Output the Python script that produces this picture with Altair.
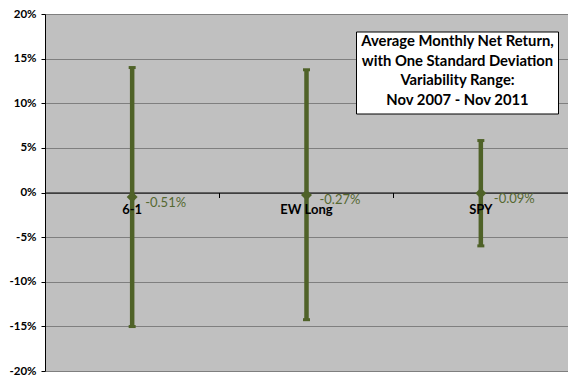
import altair as alt
import pandas as pd

categories = ["6-1", "EW Long", "SPY"]
means = [-0.51, -0.27, -0.09]
uppers = [14.0, 13.75, 5.82]
lowers = [-15.02, -14.25, -5.98]
mean_labels = ["-0.51%", "-0.27%", "-0.09%"]
y_ticks = [-20, -15, -10, -5, 0, 5, 10, 15, 20]
title_lines = ["Average Monthly Net Return,", "with One Standard Deviation",
               "Variability Range:", "Nov 2007 - Nov 2011"]

df = pd.DataFrame({"cat": categories, "mean": means, "upper": uppers,
                   "lower": lowers, "label": mean_labels})

GREEN = "#4F6228"
FONT = "Lato"
PLOT_W = 523
PLOT_H = 357

x_enc = alt.X("cat:N", sort=categories,
              scale=alt.Scale(paddingInner=0, paddingOuter=0),
              axis=alt.Axis(title=None, labels=False, domainColor="black",
                            tickColor="black", bandPosition=0,
                            offset=-PLOT_H / 2,
                            tickSize=5, grid=False, domainWidth=1))
y_scale = alt.Scale(domain=[-20, 20], nice=False, zero=False)
y_axis = alt.Axis(title=None, values=y_ticks, labelExpr="datum.value + '%'",
                  grid=True, gridColor="#7F7F7F", gridWidth=1,
                  domainColor="black", tickColor="black", tickSize=4,
                  labelFont=FONT, labelFontSize=11.5, labelFontWeight="bold",
                  labelColor="black", labelPadding=5)

base = alt.Chart(df)

rule = base.mark_rule(color=GREEN, strokeWidth=4.5).encode(
    x=x_enc, y=alt.Y("lower:Q", scale=y_scale, axis=y_axis), y2="upper:Q")
cap_top = base.mark_tick(color=GREEN, thickness=3, size=7, opacity=1).encode(
    x=x_enc, y=alt.Y("upper:Q", scale=y_scale))
cap_bot = base.mark_tick(color=GREEN, thickness=3, size=7, opacity=1).encode(
    x=x_enc, y=alt.Y("lower:Q", scale=y_scale))
pts = base.mark_point(shape="diamond", filled=True, size=120, color=GREEN,
                      opacity=1).encode(
    x=x_enc, y=alt.Y("mean:Q", scale=y_scale))
cat_text = base.mark_text(font=FONT, fontSize=13, fontWeight="bold",
                          color="black", baseline="middle", dy=17.5).encode(
    x=x_enc, y=alt.datum(0), text="cat:N")
val_text = base.mark_text(font=FONT, fontSize=13, color="#556830", align="left",
                          baseline="middle", dx=13, dy=5.5).encode(
    x=x_enc, y=alt.Y("mean:Q", scale=y_scale), text="label:N")

box_df = pd.DataFrame({"t": [0]})
box = alt.Chart(box_df).mark_rect(fill="white", stroke="black",
                                  strokeWidth=1).encode(
    x=alt.value(311.5), x2=alt.value(513.5), y=alt.value(18), y2=alt.value(100))
box_text = alt.Chart(box_df).mark_text(font=FONT, fontSize=14.8, fontWeight="bold",
                                       color="black", align="center",
                                       baseline="top", lineHeight=19.5).encode(
    x=alt.value(412.5), y=alt.value(20), text=alt.value(title_lines))

chart = alt.layer(rule, cap_top, cap_bot, pts, cat_text, val_text, box,
                  box_text).properties(
    width=PLOT_W, height=PLOT_H, autosize="none",
    padding={"left": 37, "top": 6, "right": 0, "bottom": 5},
).configure_view(fill="#C0C0C0", stroke=None)

chart.save("out.html", embed_options={"renderer": "svg", "actions": False})
